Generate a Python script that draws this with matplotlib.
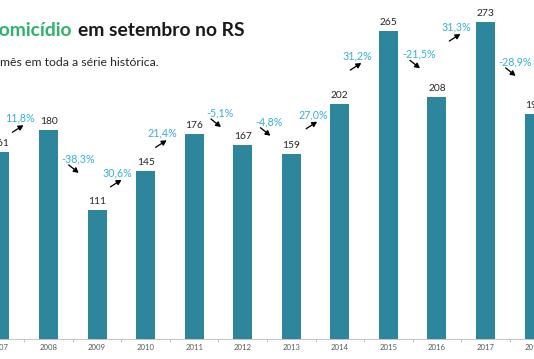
import matplotlib
matplotlib.use("Agg")
import matplotlib.pyplot as plt
from matplotlib.ticker import FixedLocator

years = [2007, 2008, 2009, 2010, 2011, 2012, 2013, 2014, 2015, 2016, 2017, 2018]
values = [161, 180, 111, 145, 176, 167, 159, 202, 265, 208, 273, 194]
changes = ["11,8%", "-38,3%", "30,6%", "21,4%", "-5,1%", "-4,8%", "27,0%",
           "31,2%", "-21,5%", "31,3%", "-28,9%"]

# label positions (styling): x offset from previous year, y in data units
pct_pos = [(0.40, 190), (0.60, 155), (0.42, 143), (0.35, 177), (0.53, 194.5),
           (0.55, 187), (0.45, 193), (0.36, 243.5), (0.63, 245), (0.40, 268.5), (0.60, 238.5)]

BAR = "#2e869c"
PCT = "#39aed6"
GREEN = "#2db36b"
FONT = "Lato"

DPI = 72
W, H = 534, 359
fig = plt.figure(figsize=(W / DPI, H / DPI), dpi=DPI)
renderer = fig.canvas.get_renderer()


def fit_size(s, target_px, weight="normal"):
    t = fig.text(0, 0, s, fontsize=10, family=FONT, fontweight=weight)
    w = t.get_window_extent(renderer).width
    t.remove()
    return 10 * target_px / w


SP = 49.1
x0 = -3.6
ax = fig.add_axes([0, 20 / H, 1, (H - 20) / H])
ax.bar(years, values, width=0.39, color=BAR, zorder=2)
ax.set_xlim(years[0] - x0 / SP, years[0] + (W - x0) / SP)
ax.set_ylim(0, (H - 20) / 1.162)

for s in ["top", "right", "left"]:
    ax.spines[s].set_visible(False)
ax.spines["bottom"].set_color("#bfbfbf")
ax.spines["bottom"].set_linewidth(0.9)
ax.set_yticks([])
tick_fs = fit_size("2017", 18)
ax.set_xticks(years)
ax.set_xticklabels([str(y) for y in years], fontsize=tick_fs, color="#595959", family=FONT)
ax.tick_params(axis="x", which="major", length=0, pad=4.5)
ax.xaxis.set_minor_locator(FixedLocator([y + 0.5 for y in years[:-1]] + [years[0] - 0.5]))
ax.tick_params(axis="x", which="minor", length=3, color="#bfbfbf", width=0.9)

val_fs = fit_size("265", 18)
for x, v in zip(years, values):
    ax.annotate(str(v), (x, v), xytext=(0, 8.5), textcoords="offset points",
                ha="center", va="center", fontsize=val_fs, color="#262626", family=FONT,
                annotation_clip=False)

pct_fs = fit_size("31,2%", 29.5)
trans = ax.transData
inv = trans.inverted()
for i, (lab, (dx, yv)) in enumerate(zip(changes, pct_pos)):
    x = years[i] + dx
    ax.text(x, yv, lab, ha="center", va="center", fontsize=pct_fs, color=PCT, family=FONT)
    if lab.startswith("-"):
        tail, head = (-9, -6), (1, -14)
    else:
        tail, head = (-7, -14), (4, -7)
    px, py = trans.transform((x, yv))
    t = inv.transform((px + tail[0], py + tail[1]))
    h = inv.transform((px + head[0], py + head[1]))
    ax.annotate("", xy=h, xytext=t,
                arrowprops=dict(arrowstyle="-|>,head_length=0.4,head_width=0.22",
                                color="black", lw=1.3, shrinkA=0, shrinkB=0))

title_fs = fit_size("em setembro no RS", 167, "bold")
fig.text(72 / W, 1 - 30 / H, "Homicídio", fontsize=title_fs, fontweight="bold",
         color=GREEN, family=FONT, va="center", ha="right")
fig.text(78 / W, 1 - 30 / H, "em setembro no RS", fontsize=title_fs, fontweight="bold",
         color="#1a1a1a", family=FONT, va="center", ha="left")
sub_fs = fit_size("mês em toda a série histórica.", 159)
fig.text(0, 1 - 62 / H, "mês em toda a série histórica.", fontsize=sub_fs,
         color="#262626", family=FONT, va="center", ha="left")

fig.savefig("out.png", dpi=DPI)
